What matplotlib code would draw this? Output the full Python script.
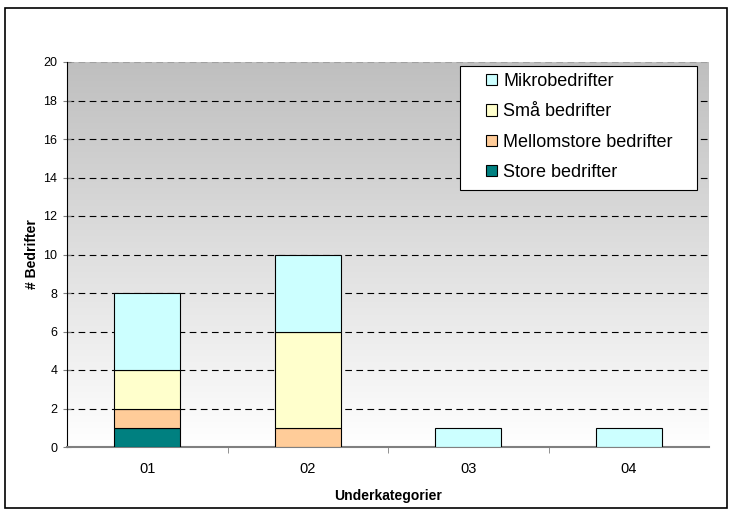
import matplotlib
matplotlib.use("Agg")
import matplotlib.pyplot as plt
import numpy as np
from matplotlib.patches import Rectangle

plt.rcParams['font.family'] = ['Liberation Sans', 'DejaVu Sans']

categories = ['01', '02', '03', '04']
store = [1, 0, 0, 0]
mellomstore = [1, 1, 0, 0]
sma = [2, 5, 0, 0]
mikro = [4, 4, 1, 1]

series = [
    ('Store bedrifter', store, '#008080'),
    ('Mellomstore bedrifter', mellomstore, '#ffcc99'),
    ('Små bedrifter', sma, '#ffffcc'),
    ('Mikrobedrifter', mikro, '#ccffff'),
]

W, H = 733, 513
fig = plt.figure(figsize=(W / 100, H / 100), dpi=100)
ax = fig.add_axes([67 / W, 1 - 447 / H, 642 / W, 385 / H])

# outer chart border
fig.patches.append(Rectangle((5 / W, 1 - 508 / H), 722 / W, 500 / H,
                             transform=fig.transFigure, fill=False,
                             edgecolor='black', linewidth=1.2))

# grey-to-white gradient background
grad = np.linspace(0, 1, 256).reshape(-1, 1)
cmap = matplotlib.colors.LinearSegmentedColormap.from_list('bg', ['#bfbfbf', '#ffffff'])
ax.imshow(grad, aspect='auto', cmap=cmap, extent=[0, 1, 0, 1],
          transform=ax.transAxes, zorder=0)

x = np.arange(len(categories))
bottom = np.zeros(len(categories))
handles = []
for name, vals, col in series:
    vals = np.array(vals, dtype=float)
    b = ax.bar(x, vals, 0.41, bottom=bottom, color=col, edgecolor='black',
               linewidth=0.8, label=name, zorder=3)
    handles.append(b)
    bottom += vals

ax.set_xlim(-0.5, len(categories) - 0.5)
ax.set_ylim(0, 20)
ax.set_yticks(range(0, 21, 2))
ax.set_xticks(x)
ax.set_xticklabels(categories, fontsize=10.5)
ax.set_xticks(np.arange(0.5, len(categories) - 0.5, 1), minor=True)
ax.tick_params(axis='x', which='both', length=0, pad=11)
ax.tick_params(axis='x', which='minor', length=4, direction='out', color='#808080')
ax.tick_params(axis='y', labelsize=9, length=6, direction='inout', color='#808080', pad=4)

for yv in range(2, 21, 2):
    ax.axhline(yv, color='black' if yv < 20 else '#a0a0a0', linestyle=(0, (6, 4)),
               linewidth=0.8, zorder=1)

for side in ['top', 'right']:
    ax.spines[side].set_visible(False)
ax.spines['left'].set_color('black')
ax.spines['bottom'].set_color('#808080')
ax.spines['bottom'].set_linewidth(1.5)

ax.set_xlabel('Underkategorier', fontsize=10, fontweight='bold', labelpad=9)
ax.set_ylabel('# Bedrifter', fontsize=10, fontweight='bold', labelpad=3)

# legend box drawn separately so the padding matches
fig.patches.append(Rectangle((460 / W, 1 - 190 / H), 237 / W, 124 / H,
                             transform=fig.transFigure, facecolor='white',
                             edgecolor='black', linewidth=0.8, zorder=4))
leg = fig.legend(handles[::-1], [s[0] for s in series][::-1], loc='upper left',
                 bbox_to_anchor=(486 / W, 1 - 73 / H), fontsize=13, frameon=False,
                 handlelength=0.6, handleheight=0.6, handletextpad=0.35,
                 labelspacing=0.74, borderpad=0, borderaxespad=0)
leg.set_zorder(5)

fig.savefig('out.png', dpi=100)
